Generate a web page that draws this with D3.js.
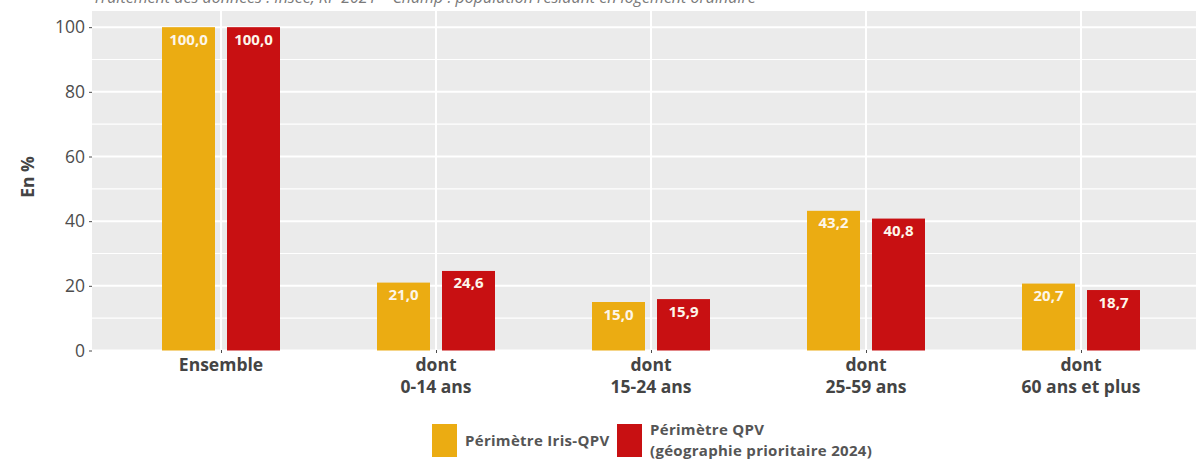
<!DOCTYPE html>
<html><head><meta charset="utf-8">
<script src="https://cdn.jsdelivr.net/npm/d3@7"></script>
<style>body{margin:0;background:#fff}svg{display:block}</style>
</head><body><svg id="c" width="1196" height="460"></svg>
<script>
const categories = ["Ensemble", "dont\n0-14 ans", "dont\n15-24 ans", "dont\n25-59 ans", "dont\n60 ans et plus"];
const seriesNames = ["Périmètre Iris-QPV", "Périmètre QPV\n(géographie prioritaire 2024)"];
const irisQpv = [100.0, 21.0, 15.0, 43.2, 20.7];
const qpv2024 = [100.0, 24.6, 15.9, 40.8, 18.7];
const yTicks = [0, 20, 40, 60, 80, 100];
const yMinor = [10, 30, 50, 70, 90];
const colors = ["#EBAC12", "#C81012"];
const topNote = "Traitement des données : Insee, RP 2021 – Champ : population résidant en logement ordinaire";

const svg = d3.select("#c");
const W = 1196;
const panel = {left: 92, top: 11, right: 1210, bottom: 351};
const font = "'Open Sans', sans-serif";

const x = d3.scalePoint().domain(categories).range([panel.left, panel.right]).padding(0.6);
const inner = d3.scaleBand().domain([0, 1]).range([-59, 59]).paddingInner(12/65).paddingOuter(0);
const y = d3.scaleLinear().domain([0, 105]).range([350.5, panel.top]);

svg.append("defs").append("clipPath").attr("id", "pc")
  .append("rect").attr("x", panel.left).attr("y", panel.top).attr("width", W - panel.left).attr("height", panel.bottom - panel.top);

// top note (partially clipped, as in the source image)
svg.append("text").attr("x", 93).attr("y", 3).attr("font-family", font).attr("font-style", "italic")
  .attr("font-size", 16).attr("fill", "#7a7a7a").text(topNote);

const g = svg.append("g").attr("clip-path", "url(#pc)");
g.append("rect").attr("x", panel.left).attr("y", panel.top).attr("width", panel.right - panel.left)
  .attr("height", panel.bottom - panel.top).attr("fill", "#EBEBEB");
g.selectAll(".minor").data(yMinor).enter().append("line")
  .attr("x1", panel.left).attr("x2", panel.right).attr("y1", d => y(d)).attr("y2", d => y(d))
  .attr("stroke", "#fff").attr("stroke-width", 1.1);
g.selectAll(".major").data(yTicks).enter().append("line")
  .attr("x1", panel.left).attr("x2", panel.right).attr("y1", d => y(d)).attr("y2", d => y(d))
  .attr("stroke", "#fff").attr("stroke-width", 2);
g.selectAll(".vg").data(categories).enter().append("line")
  .attr("x1", d => x(d)).attr("x2", d => x(d)).attr("y1", panel.top).attr("y2", panel.bottom)
  .attr("stroke", "#fff").attr("stroke-width", 2);

const series = [irisQpv, qpv2024];
series.forEach((vals, si) => {
  const bars = g.selectAll(".b" + si).data(categories.map((c, i) => ({c, v: vals[i]}))).enter();
  bars.append("rect")
    .attr("x", d => x(d.c) + inner(si)).attr("width", inner.bandwidth())
    .attr("y", d => y(d.v)).attr("height", d => y(0) - y(d.v))
    .attr("fill", colors[si]);
  bars.append("text")
    .attr("x", d => x(d.c) + inner(si) + inner.bandwidth() / 2)
    .attr("y", d => y(d.v) + 17.5)
    .attr("text-anchor", "middle").attr("font-family", font).attr("font-weight", "bold")
    .attr("font-size", 15).attr("fill", "#fdf6ea")
    .text(d => d3.format(".1f")(d.v).replace(".", ","));
});

// y axis
const ya = svg.append("g").attr("transform", `translate(${panel.left},0)`)
  .call(d3.axisLeft(y).tickValues(yTicks).tickSize(3).tickPadding(4));
ya.select(".domain").remove();
ya.selectAll("line").attr("stroke", "#4d4d4d");
ya.selectAll("text").attr("font-family", font).attr("font-size", 17.5).attr("fill", "#4d4d4d");

// x axis
const xa = svg.append("g").attr("transform", `translate(0,${panel.bottom - 1})`)
  .call(d3.axisBottom(x).tickSize(3).tickFormat(""));
xa.select(".domain").remove();
xa.selectAll("line").attr("stroke", "#4d4d4d");
categories.forEach(c => {
  const lines = c.split("\n");
  const t = svg.append("text").attr("x", x(c)).attr("y", 371).attr("text-anchor", "middle")
    .attr("font-family", font).attr("font-weight", "bold").attr("font-size", 17.5).attr("fill", "#444");
  lines.forEach((l, i) => t.append("tspan").attr("x", x(c)).attr("dy", i ? 22 : 0).text(l));
});

// y title
svg.append("text").attr("transform", "translate(34,177) rotate(-90)").attr("text-anchor", "middle")
  .attr("font-family", font).attr("font-weight", "bold").attr("font-size", 17.5).attr("fill", "#444").text("En %");

// legend
const legX = [432, 617];
seriesNames.forEach((n, i) => {
  svg.append("rect").attr("x", legX[i]).attr("y", 424).attr("width", 25).attr("height", 33).attr("fill", colors[i]);
  const lines = n.split("\n");
  const y0 = lines.length === 1 ? 446 : 435;
  lines.forEach((l, j) => svg.append("text").attr("font-family", font).attr("font-weight", "bold")
    .attr("font-size", 15).attr("letter-spacing", 0.3).attr("fill", "#555")
    .attr("x", legX[i] + 33).attr("y", y0 + j * 20.5).text(l));
});
</script></body></html>
